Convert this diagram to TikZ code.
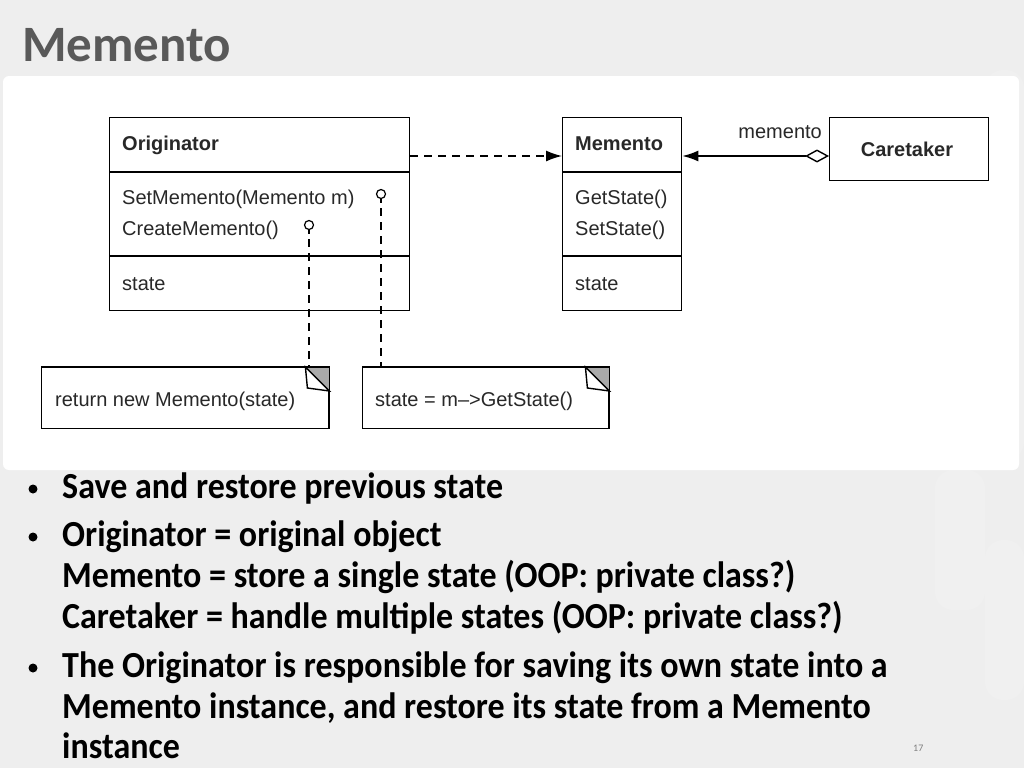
\documentclass[tikz,border=0pt]{standalone}
\usepackage{fontspec}
\setmainfont{Liberation Sans}
\newfontfamily\calfont{Carlito}
\usetikzlibrary{arrows.meta}
\definecolor{bgc}{RGB}{238,238,238}
\definecolor{titlec}{RGB}{89,89,89}
\definecolor{ink}{RGB}{40,40,40}
\definecolor{foldc}{RGB}{170,170,170}
\newcommand{\tallbul}[1]{\scalebox{1}[1.08]{#1}}
\begin{document}
\begin{tikzpicture}[x=1pt,y=-1pt,
  box/.style={draw=black,line width=1.4pt,fill=white,inner sep=0pt,anchor=north west},
  lbl/.style={anchor=base west,inner sep=0pt,text=ink,font=\fontsize{20}{20}\selectfont},
  blbl/.style={lbl,font=\fontsize{20}{20}\selectfont\bfseries},
  dashline/.style={line width=1.4pt,dash pattern=on 8pt off 6pt},
  bul/.style={anchor=base west,inner sep=0pt,text=black,font=\calfont\fontsize{34}{34}\selectfont\bfseries},
  dot/.style={circle,fill=black,inner sep=0pt,minimum size=9pt}]
\useasboundingbox (0,0) rectangle (1024,768);
\fill[bgc] (0,0) rectangle (1024,768);
\fill[gray!12,rounded corners=18pt] (935,470) rectangle (985,610);
\fill[gray!12,rounded corners=18pt] (985,540) rectangle (1024,700);
\fill[gray!12,rounded corners=18pt] (985,70) rectangle (1024,460);
\fill[white,rounded corners=6pt] (3,76) rectangle (1019,470);
\node[anchor=base west,inner sep=0pt,text=titlec,font=\calfont\fontsize{51}{51}\selectfont\bfseries] (title) at (22,61) {Memento};
% Originator
\node[box,minimum width=300pt,minimum height=193pt] (orig) at (109,117) {};
\draw[line width=1.4pt] (109,172) -- (409,172) (109,256) -- (409,256);
\node[blbl] (o1) at (122,150) {Originator};
\node[lbl] (o2) at (122,204) {SetMemento(Memento m)};
\node[lbl] (o3) at (122,235) {CreateMemento()};
\node[lbl] (o4) at (122,290) {state};
% Memento
\node[box,minimum width=119pt,minimum height=193pt] (mem) at (562,117) {};
\draw[line width=1.4pt] (562,172) -- (681,172) (562,256) -- (681,256);
\node[blbl] (m1) at (575,150) {Memento};
\node[lbl] (m2) at (575,204) {GetState()};
\node[lbl] (m3) at (575,235) {SetState()};
\node[lbl] (m4) at (575,290) {state};
% Caretaker
\node[box,minimum width=159pt,minimum height=63pt] (care) at (829,117) {};
\node[blbl,anchor=center] (c1) at (907,149) {Caretaker};
% notes
\node[box,minimum width=287pt,minimum height=61pt] (n1) at (41,367) {};
\node[lbl] (n1t) at (55,406) {return new Memento(state)};
\node[box,minimum width=246pt,minimum height=61pt] (n2) at (362,367) {};
\node[lbl] (n2t) at (375,406) {state = m--{}>GetState()};
\foreach \n in {n1,n2}{
  \fill[foldc] ([xshift=-24pt]\n.north east) -- (\n.north east) -- ([yshift=-24pt]\n.north east) -- cycle;
  \draw[line width=1.4pt,fill=white] ([xshift=-24pt]\n.north east) -- ([xshift=-22pt,yshift=-21pt]\n.north east) -- ([yshift=-24pt]\n.north east) -- cycle;
  \draw[line width=1.4pt] (\n.north west) -- (\n.north east) -- (\n.south east);
}
% lollipops
\coordinate (lp1) at (381,194);
\coordinate (lp2) at (309,225);
\coordinate (lp1b) at (381,367);
\coordinate (lp2b) at (309,367);
\draw[dashline] (lp1) -- (lp1b);
\draw[dashline] (lp2) -- (lp2b);
\draw[line width=1.2pt] (lp1) -- ++(0,9) (lp2) -- ++(0,9);
\node[circle,draw=black,line width=1.2pt,fill=white,inner sep=0pt,minimum size=9pt] (lc1) at (lp1) {};
\node[circle,draw=black,line width=1.2pt,fill=white,inner sep=0pt,minimum size=9pt] (lc2) at (lp2) {};
% connectors
\draw[dashline,-{Latex[length=16pt,width=11pt]}] (orig.east |- 0,156) -- (mem.west |- 0,156);
\draw[line width=1.4pt,{Latex[length=16pt,width=11pt]}-{Diamond[open,length=24pt,width=13pt]}] (mem.east |- 0,156) -- (care.west |- 0,156);
\node[lbl,anchor=base east] (ml) at (822,138) {memento};
% bullets
\node[dot] (b1) at (33,489) {};
\node[bul] (t1) at (62,498) {\tallbul{Save and restore previous state}};
\node[dot] (b2) at (33,537) {};
\node[bul] (t2) at (62,546) {\tallbul{Originator = original object}};
\node[bul] (t3) at (62,587) {\tallbul{Memento = store a single state (OOP: private class?)}};
\node[bul] (t4) at (62,628) {\tallbul{Caretaker = handle multiple states (OOP: private class?)}};
\node[dot] (b3) at (33,668) {};
\node[bul] (t5) at (62,677) {\tallbul{The Originator is responsible for saving its own state into a}};
\node[bul] (t6) at (62,718) {\tallbul{Memento instance, and restore its state from a Memento}};
\node[bul] (t7) at (62,758) {\tallbul{instance}};
\node[anchor=base west,inner sep=0pt,text=gray,font=\calfont\fontsize{10}{10}\selectfont] (pg) at (913,751) {17};
\end{tikzpicture}
\end{document}
